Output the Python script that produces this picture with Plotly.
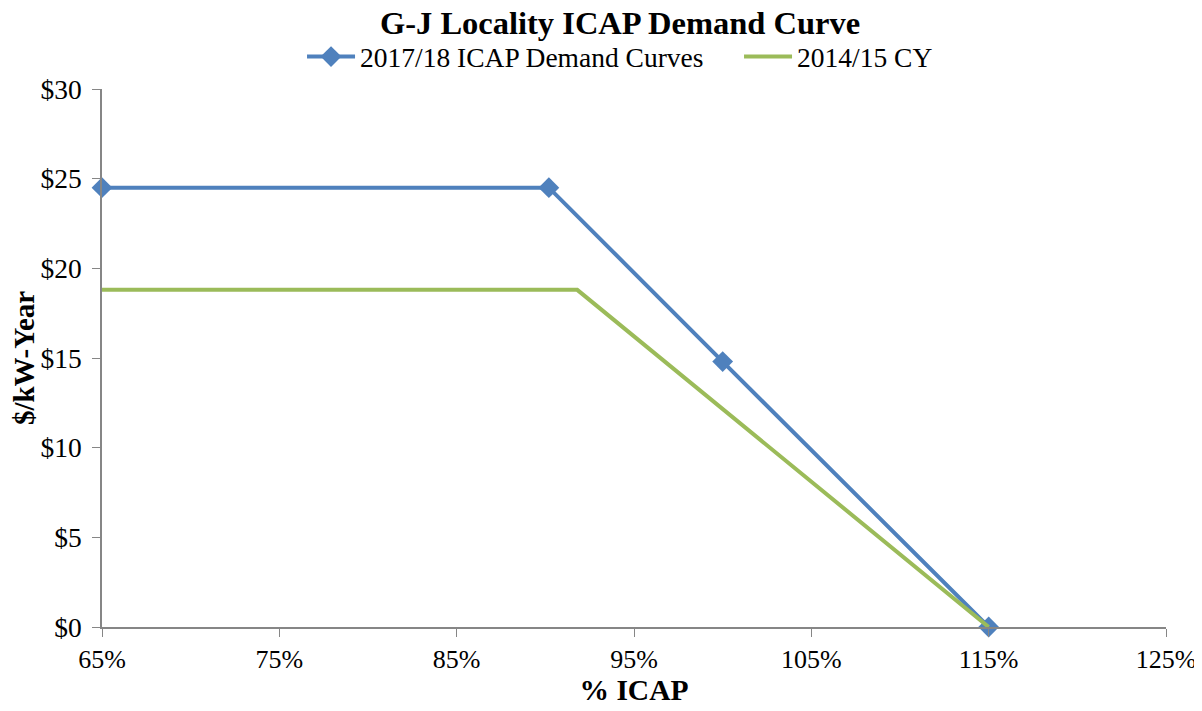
import plotly.graph_objects as go

# ── Data ──────────────────────────────────────────────────────────────────────
icap_1718_x = [65, 90.2, 100, 115]
icap_1718_y = [24.5, 24.5, 14.8, 0]

cy_1415_x = [65, 91.8, 115]
cy_1415_y = [18.8, 18.8, 0]

x_ticks = [65, 75, 85, 95, 105, 115, 125]
y_ticks = [0, 5, 10, 15, 20, 25, 30]

FONT = "Liberation Serif, Times New Roman, serif"

fig = go.Figure()

fig.add_trace(go.Scatter(
    x=icap_1718_x, y=icap_1718_y, mode="lines+markers",
    name="2017/18 ICAP Demand Curves",
    line=dict(color="#4F81BD", width=4),
    marker=dict(symbol="diamond", size=16, color="#4F81BD"),
    cliponaxis=False,
))
fig.add_trace(go.Scatter(
    x=cy_1415_x, y=cy_1415_y, mode="lines",
    name="2014/15 CY",
    line=dict(color="#9BBB59", width=4),
    cliponaxis=False,
))

# page body has an 8px margin, so the figure sits at (8, 8)
fig.update_layout(
    width=1194, height=703,
    paper_bgcolor="white", plot_bgcolor="white",
    margin=dict(l=94, r=36, t=81, b=84),
    font=dict(family=FONT, size=26, color="black"),
    title=dict(
        text="<b>G-J Locality ICAP Demand Curve</b>",
        x=0.5126, xanchor="center", y=0.979, yanchor="middle",
        font=dict(family=FONT, size=32.5, color="black"),
    ),
    legend=dict(
        orientation="h", x=0.188, xanchor="left", y=1.06, yanchor="middle",
        font=dict(family=FONT, size=27.5), itemwidth=48,
        entrywidth=374, tracegroupgap=0,
    ),
    showlegend=True,
)

fig.update_xaxes(
    range=[65, 125], tickvals=x_ticks,
    ticktext=[f"{v}%" for v in x_ticks],
    showgrid=False, zeroline=False, automargin=False,
    showline=True, linecolor="#868686", linewidth=1.5,
    ticks="outside", ticklen=8, tickcolor="#868686",
    tickfont=dict(family=FONT, size=26),
    title=dict(text="<b>% ICAP</b>", font=dict(family=FONT, size=29.5), standoff=6),
)
fig.update_yaxes(
    range=[0, 30], tickvals=y_ticks,
    ticktext=[f"${v}" for v in y_ticks],
    showgrid=False, zeroline=False, automargin=False,
    showline=True, linecolor="#868686", linewidth=1.5,
    ticks="outside", ticklen=8, tickcolor="#868686",
    ticklabelstandoff=5,
    tickfont=dict(family=FONT, size=27.5),
    title=dict(text="<b>$/kW-Year</b>", font=dict(family=FONT, size=29), standoff=2),
)

fig.write_html("out.html")
